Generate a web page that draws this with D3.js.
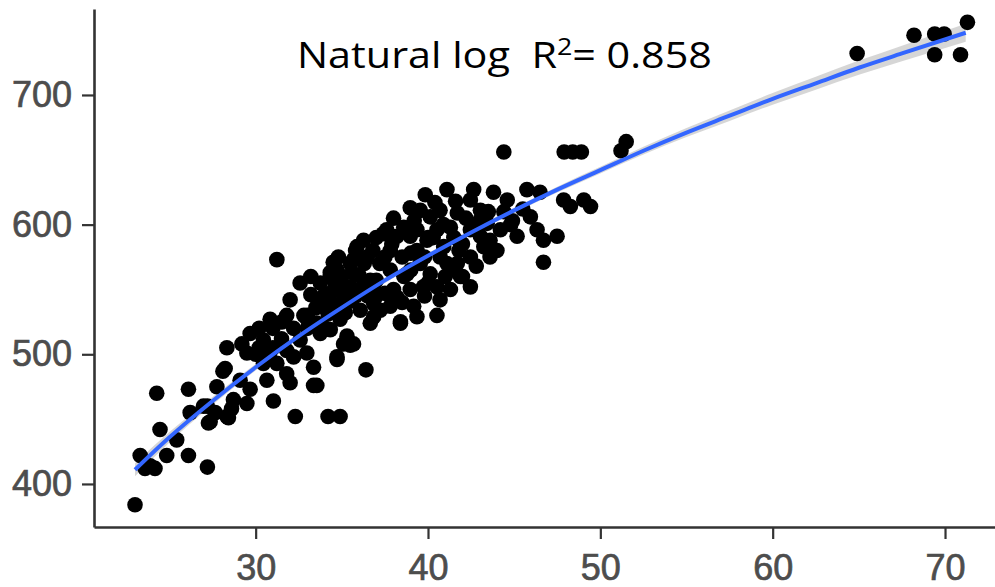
<!DOCTYPE html>
<html>
<head>
<meta charset="utf-8">
<script src="https://cdn.jsdelivr.net/npm/d3@7/dist/d3.min.js"></script>
<style>
  html, body { margin: 0; padding: 0; background: #fff; }
  svg { display: block; }
</style>
</head>
<body>
<svg id="chart" width="995" height="587"></svg>
<script>
// ---- data ----
const xTicks = [30, 40, 50, 60, 70];
const yTicks = [400, 500, 600, 700];

const pointsX = [
  23.0, 24.26, 26.1, 28.1, 24.45, 23.3, 24.84, 24.16, 23.58, 26.1, 27.2, 26.2, 27.26, 28.42, 27.65,
  29.49, 29.68, 31.03, 32.0, 33.55, 32.3, 34.2, 34.9, 25.42, 23.87, 26.97, 27.75, 28.71, 29.1, 30.65,
  31.8, 31.23, 30.45, 32.97, 31.8, 33.75, 33.36, 33.36, 34.72, 35.49, 36.4, 28.33, 28.23, 29.49, 30.45,
  29.68, 30.84, 31.52, 32.0, 32.58, 32.58, 33.55, 34.52, 34.52, 35.3, 35.68, 34.9, 35.3, 31.23, 27.36,
  28.33, 34.33, 33.75, 34.0, 33.2, 33.5, 34.2, 35.0, 35.5, 36.0, 36.3, 35.0, 34.5, 35.8,
  44.4, 47.9, 48.4, 48.9, 51.2, 51.5, 46.7, 64.9, 68.2, 69.4, 69.95, 69.4, 70.9, 71.3,
  41.1, 42.65, 39.84, 38.97, 43.8, 44.6, 45.74, 46.5, 47.87, 49.04, 49.43, 48.26, 45.94, 46.33, 46.7,
  47.49, 45.17, 44.2, 44.0, 43.24, 42.46, 41.7, 41.88, 42.46, 41.3, 40.7, 40.52, 39.36, 38.4, 37.23,
  36.85, 38.0, 38.97, 39.74, 40.13, 41.1, 39.55, 38.78, 37.81, 36.26, 35.88, 36.46, 35.49, 34.72, 34.33,
  38.2, 38.97, 37.81, 38.59, 39.55, 40.13, 40.7, 41.7, 42.46, 43.04, 43.43, 42.46, 41.3, 40.52, 39.94,
  39.36, 40.91, 41.88, 43.04, 43.6, 41.49, 40.7, 39.36, 37.6, 37.4, 36.65, 35.49, 34.33, 34.9, 36.85,
  36.07, 36.85, 37.81, 39.17, 38.2, 36.65, 34.33, 35.1, 35.68, 34.72, 40.52, 38.4, 27.2, 28.6, 33.0,
  37.0, 38.6, 40.0, 41.8, 43.0, 44.8, 45.5, 42.0, 39.0, 37.5, 36.2, 33.0, 32.2, 31.0, 30.0,
  30.2, 30.8, 31.5, 32.2, 31.0, 32.8, 30.2, 29.2, 31.8,
  33.2, 33.8, 34.6, 35.2, 35.8, 36.5, 36.2, 35.6, 34.8, 36.8, 37.2, 37.0, 33.0, 34.0,
  37.9, 38.5, 39.0, 39.8, 40.3, 40.9, 41.5, 42.2, 42.9, 43.5, 44.4, 44.9, 39.8, 38.5, 37.5,
  40.0, 41.0, 42.8, 43.6, 39.2, 40.4, 41.6, 42.0, 38.0, 37.0
];
const pointsY = [
  384, 470, 473, 487, 442, 422, 422, 412, 412, 422, 413, 455, 447, 451, 455,
  462, 473, 464, 478, 476, 452, 452, 452, 434, 414, 460, 475, 465, 480, 480,
  485, 493, 493, 501, 503, 516, 490, 476, 496, 507, 488, 505, 489, 501, 511,
  516, 527, 525, 542, 555, 511, 524, 537, 563, 550, 573, 527, 514, 573, 448,
  452, 563, 555, 546, 546, 536, 531, 548, 541, 561, 570, 560, 571, 580,
  656, 656, 656, 656, 657, 664, 571, 732, 746, 747, 747, 731, 731, 756,
  627, 627, 623, 613, 625, 619, 627, 625, 619, 619, 614, 614, 606, 596, 588,
  591, 591, 596, 580, 583, 575, 570, 560, 552, 550, 542, 530, 529, 525, 534,
  550, 550, 550, 552, 562, 570, 570, 562, 565, 588, 583, 575, 570, 565, 560,
  591, 591, 580, 598, 611, 606, 611, 609, 619, 611, 601, 596, 598, 596, 588,
  580, 583, 586, 591, 588, 565, 575, 596, 596, 593, 557, 552, 547, 539, 539,
  534, 529, 537, 537, 544, 524, 519, 508, 508, 498, 552, 524, 460, 458, 520,
  545, 560, 590, 580, 603, 600, 612, 560, 578, 575, 548, 530, 498, 505, 500,
  505, 500, 512, 520, 520, 530, 520, 508, 530,
  560, 540, 555, 532, 545, 545, 552, 563, 575, 580, 570, 557, 527, 520,
  585, 575, 565, 575, 590, 600, 590, 605, 598, 610, 610, 603, 545, 540, 547,
  555, 560, 568, 575, 603, 617, 618, 585, 605, 590
];

// fitted curve (blue line) and grey confidence band
const fitX  = [23, 25, 27.5, 30, 32.5, 35, 37.5, 40, 42.5, 45, 47.5, 50, 52.5, 55, 57.5, 60, 62.5, 65, 67.5, 71.2];
const fitY  = [411, 436, 464, 490, 514, 536, 557, 576, 594, 611, 627, 642, 657, 671, 684, 697, 709, 721, 732, 748];
const fitSE = [5, 4, 3, 2.5, 2.2, 2, 2, 2, 2, 2, 2.3, 2.6, 3, 3.5, 4, 4.5, 5, 5.5, 6, 7];

const titleMain = "Natural log  R";
const titleSup = "2";
const titleEnd = "= 0.858";

// ---- drawing ----
const svg = d3.select("#chart");
const x = d3.scaleLinear().domain([20.62, 72.9]).range([94, 995]);
const y = d3.scaleLinear().domain([366.8, 766.3]).range([527, 9]);

const fit = fitX.map((v, i) => ({x: v, y: fitY[i], se: fitSE[i]}));

svg.append("path")
  .datum(fit)
  .attr("fill", "rgba(153,153,153,0.4)")
  .attr("d", d3.area().curve(d3.curveMonotoneX)
    .x(d => x(d.x)).y0(d => y(d.y - d.se)).y1(d => y(d.y + d.se)));

const pts = pointsX.map((v, i) => ({x: v, y: pointsY[i]}));
svg.append("g").selectAll("circle").data(pts).join("circle")
  .attr("cx", d => x(d.x)).attr("cy", d => y(d.y)).attr("r", 7.8)
  .attr("fill", "#000");

svg.append("path")
  .datum(fit)
  .attr("fill", "none")
  .attr("stroke", "#3366FF")
  .attr("stroke-width", 4)
  .attr("d", d3.line().curve(d3.curveMonotoneX).x(d => x(d.x)).y(d => y(d.y)));

const xAxis = svg.append("g").attr("transform", "translate(0,527)")
  .call(d3.axisBottom(x).tickValues(xTicks).tickSize(12).tickSizeOuter(0).tickPadding(15));
const yAxis = svg.append("g").attr("transform", "translate(94,0)")
  .call(d3.axisLeft(y).tickValues(yTicks).tickSize(12).tickSizeOuter(0).tickPadding(10));

[xAxis, yAxis].forEach(g => {
  g.select(".domain").attr("stroke", "#333").attr("stroke-width", 2.6);
  g.selectAll(".tick line").attr("stroke", "#333").attr("stroke-width", 2.2);
  g.selectAll(".tick text")
    .attr("fill", "#4d4d4d")
    .attr("stroke", "#4d4d4d")
    .attr("stroke-width", 0.7)
    .style("font-family", "'Liberation Sans', Arial, sans-serif")
    .style("font-size", "36px");
});

const title = svg.append("text")
  .attr("x", 297).attr("y", 68)
  .attr("textLength", 415)
  .attr("lengthAdjust", "spacingAndGlyphs")
  .style("font-family", "'Open Sans', Lato, sans-serif")
  .style("font-size", "37px")
  .style("white-space", "pre")
  .attr("fill", "#000");
title.append("tspan").text(titleMain);
title.append("tspan").attr("dy", -13).style("font-size", "24px").text(titleSup);
title.append("tspan").attr("dy", 13).text(titleEnd);
</script>
</body>
</html>
